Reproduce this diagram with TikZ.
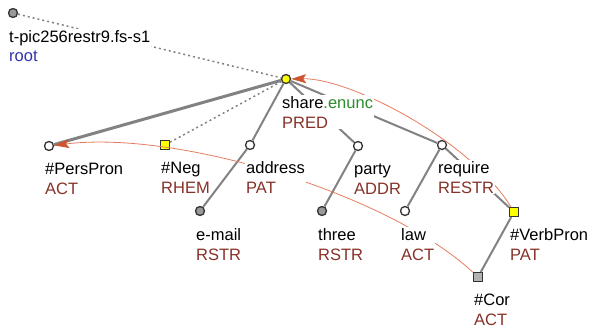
\documentclass[tikz,border=0pt]{standalone}
\usepackage{fontspec}
\setmainfont{Liberation Sans}
\usepackage{xcolor}
\usetikzlibrary{arrows.meta}

\definecolor{edgegray}{RGB}{130,130,130}
\definecolor{corefred}{RGB}{228,125,95}
\definecolor{coreftip}{RGB}{205,85,50}
\definecolor{functor}{RGB}{135,50,40}
\definecolor{enunc}{RGB}{45,140,45}
\definecolor{rootblue}{RGB}{50,50,170}
\definecolor{hiyellow}{RGB}{255,255,0}

\begin{document}
\begin{tikzpicture}[x=1pt, y=-1pt,
    every node/.style={inner sep=0pt, font=\fontsize{16.5}{20}\selectfont},
    tnode/.style={circle, draw=black!80, line width=1.3pt, minimum size=9pt,
                  fill=white},
    gnode/.style={tnode, fill=black!40},
    ynode/.style={tnode, fill=hiyellow},
    ysq/.style={rectangle, draw=black!80, line width=1pt, minimum size=9pt,
                fill=hiyellow},
    gsq/.style={ysq, fill=black!30},
    edge/.style={draw=edgegray, line width=2pt},
    hidden/.style={draw=edgegray, line width=1.5pt, dash pattern=on 2pt off 3pt},
    coref/.style={draw=corefred, line width=0.8pt,
                  -{Stealth[length=15pt, width=9pt, inset=3pt, color=coreftip]}},
    lbl/.style={anchor=base west, align=left, fill=white, inner sep=1pt}
  ]
  \useasboundingbox (0,0) rectangle (591,329);

  % tree nodes
  \node[gnode] (root) at (13,13) {};
  \node[ynode] (share) at (286,79) {};
  \node[tnode] (pp) at (49,146) {};
  \node[ysq] (neg) at (165,145) {};
  \node[tnode] (addr) at (250,145) {};
  \node[tnode] (party) at (358,146) {};
  \node[tnode] (req) at (442,145) {};
  \node[gnode] (email) at (200,211) {};
  \node[gnode] (three) at (322,211) {};
  \node[tnode] (law) at (405,211) {};
  \node[ysq] (vp) at (514,212) {};
  \node[gsq] (cor) at (478,277) {};

  % edges
  \draw[hidden] (root) -- (share);
  \draw[hidden] (share) -- (neg);
  \draw[edge, line width=3pt] (share) -- (pp);
  \draw[edge] (share) -- (addr);
  \draw[edge] (share) -- (party);
  \draw[edge] (share) -- (req);
  \draw[edge] (addr) -- (email);
  \draw[edge] (party) -- (three);
  \draw[edge] (req) -- (law);
  \draw[edge] (req) -- (vp);
  \draw[edge] (vp) -- (cor);

  % coreference
  \draw[coref] (cor) .. controls (390,195) and (180,130) .. (pp);
  \draw[coref] (vp) .. controls (470,140) and (350,78) .. (share);

  % labels
  \node[lbl] (lroot) at ([shift={(-5,49)}]root.center)
    {t-pic256restr9.fs-s1\\\textcolor{rootblue}{root}};
  \node[lbl] (lshare) at ([shift={(-5,49)}]share.center)
    {share\textcolor{enunc}{.enunc}\\\textcolor{functor}{PRED}};
  \node[lbl] (lpp) at ([shift={(-5,48)}]pp.center)
    {\#PersPron\\\textcolor{functor}{ACT}};
  \node[lbl] (lneg) at ([shift={(-5,48)}]neg.center)
    {\#Neg\\\textcolor{functor}{RHEM}};
  \node[lbl] (laddr) at ([shift={(-5,48)}]addr.center)
    {address\\\textcolor{functor}{PAT}};
  \node[lbl] (lparty) at ([shift={(-5,48)}]party.center)
    {party\\\textcolor{functor}{ADDR}};
  \node[lbl] (lreq) at ([shift={(-5,48)}]req.center)
    {require\\\textcolor{functor}{RESTR}};
  \node[lbl] (lemail) at ([shift={(-5,49)}]email.center)
    {e-mail\\\textcolor{functor}{RSTR}};
  \node[lbl] (lthree) at ([shift={(-5,49)}]three.center)
    {three\\\textcolor{functor}{RSTR}};
  \node[lbl] (llaw) at ([shift={(-5,49)}]law.center)
    {law\\\textcolor{functor}{ACT}};
  \node[lbl] (lvp) at ([shift={(-5,48)}]vp.center)
    {\#VerbPron\\\textcolor{functor}{PAT}};
  \node[lbl] (lcor) at ([shift={(-5,48)}]cor.center)
    {\#Cor\\\textcolor{functor}{ACT}};
\end{tikzpicture}
\end{document}
